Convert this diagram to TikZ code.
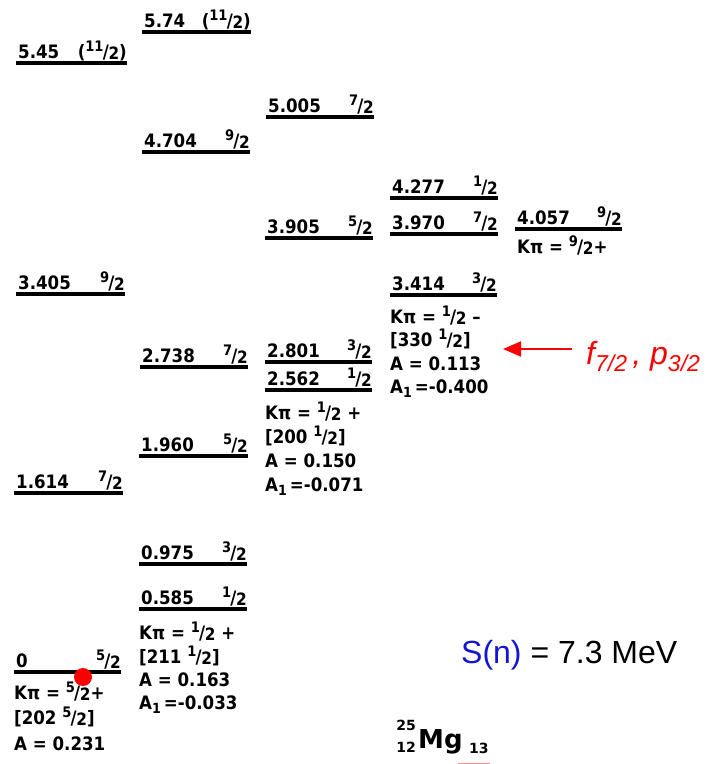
\documentclass[tikz,border=0pt]{standalone}
\usepackage{fontspec}
\setmainfont{DejaVu Sans}
\newfontfamily\lf[FakeStretch=0.9]{DejaVu Sans Bold}
\newfontfamily\af{Liberation Sans}
\newfontfamily\mgf{DejaVu Sans Bold}
\usetikzlibrary{arrows.meta}
\definecolor{snblue}{RGB}{20,20,210}
\definecolor{arrred}{RGB}{250,0,0}
\newcommand\fr[2]{\raisebox{0.34em}{\fontsize{14.5}{14.5}\selectfont #1}\kern-0.04em/\kern-0.02em{\fontsize{17}{17}\selectfont\raisebox{-0.08em}{#2}}}
\newcommand\Aone{A\raisebox{-0.25em}{\fontsize{14}{14}\selectfont 1}}
\tikzset{
  levline/.style={line width=3.2pt},
  lab/.style={inner sep=0pt, font=\lf\fontsize{18.5}{18.5}\selectfont},
  lw/.style={lab, anchor=base west},
  le/.style={lab, anchor=base east},
  mgn/.style={inner sep=0pt, font=\mgf\fontsize{14}{14}\selectfont}
}
\newcommand\lvl[6]{%
  \draw[levline] (#2,#4) -- (#3,#4);
  \node[lw] (#1e) at (#2+2,#4-5) {#5};
  \node[le] (#1s) at (#3,#4-5) {#6};
}
\begin{document}
\begin{tikzpicture}[x=1pt,y=-1pt]
\useasboundingbox (0,0) rectangle (722,764);
% column 1
\lvl{a1}{16}{127}{63}{5.45}{(\fr{11}{2})}
\lvl{a2}{16}{125}{294}{3.405}{\fr{9}{2}}
\lvl{a3}{14}{123}{493}{1.614}{\fr{7}{2}}
\lvl{a4}{14}{121}{672}{0}{\fr{5}{2}}
\node[lw] (a4k) at (14,699) {Kπ = \fr{5}{2}+};
\node[lw] (a4n) at (14,724) {[202 \fr{5}{2}]};
\node[lw] (a4a) at (14,750) {A = 0.231};
\fill[arrred] (83,677) circle (9);
% column 2
\lvl{b1}{142}{251}{32}{5.74}{(\fr{11}{2})}
\lvl{b2}{142}{250}{152}{4.704}{\fr{9}{2}}
\lvl{b3}{140}{248}{367}{2.738}{\fr{7}{2}}
\lvl{b4}{139}{248}{456}{1.960}{\fr{5}{2}}
\lvl{b5}{139}{247}{564}{0.975}{\fr{3}{2}}
\lvl{b6}{139}{247}{609}{0.585}{\fr{1}{2}}
\node[lw] (b6k) at (139,639) {Kπ = \fr{1}{2} +};
\node[lw] (b6n) at (139,663) {[211 \fr{1}{2}]};
\node[lw] (b6a) at (139,686) {A = 0.163};
\node[lw] (b6b) at (139,709) {\Aone\,=-0.033};
% column 3
\lvl{c1}{266}{374}{117}{5.005}{\fr{7}{2}}
\lvl{c2}{265}{373}{238}{3.905}{\fr{5}{2}}
\lvl{c3}{265}{372}{362}{2.801}{\fr{3}{2}}
\lvl{c4}{265}{372}{390}{2.562}{\fr{1}{2}}
\node[lw] (c4k) at (265,419) {Kπ = \fr{1}{2} +};
\node[lw] (c4n) at (265,443) {[200 \fr{1}{2}]};
\node[lw] (c4a) at (265,467) {A = 0.150};
\node[lw] (c4b) at (265,491) {\Aone\,=-0.071};
% column 4
\lvl{d1}{390}{498}{198}{4.277}{\fr{1}{2}}
\lvl{d2}{390}{498}{234}{3.970}{\fr{7}{2}}
\lvl{d3}{390}{497}{295}{3.414}{\fr{3}{2}}
\node[lw] (d3k) at (390,323) {Kπ = \fr{1}{2} –};
\node[lw] (d3n) at (390,346) {[330 \fr{1}{2}]};
\node[lw] (d3a) at (390,370) {A = 0.113};
\node[lw] (d3b) at (390,393) {\Aone\,=-0.400};
% column 5
\lvl{e1}{515}{622}{229}{4.057}{\fr{9}{2}}
\node[lw] (e1k) at (517,253) {Kπ = \fr{9}{2}+};
% red arrow and label
\node[inner sep=0pt, anchor=base west, text=arrred, font=\af\itshape\fontsize{32}{32}\selectfont] (fp) at (586,364)
  {f\raisebox{-7pt}{\fontsize{23}{23}\selectfont 7/2}\,, p\raisebox{-7pt}{\fontsize{23}{23}\selectfont 3/2}};
\coordinate (tip) at (503,349);
\draw[arrred, line width=2pt, -{Triangle[length=18pt,width=15pt]}] (fp.west |- tip) ++(-14,0) -- (tip);
% separation energy
\node[inner sep=0pt, anchor=base west, font=\af\fontsize{32}{32}\selectfont] (sn) at (461,663)
  {\textcolor{snblue}{S(n)} = 7.3 MeV};
% nucleus
\node[inner sep=0pt, anchor=base west, font=\mgf\fontsize{26}{26}\selectfont] (mg) at (418,748) {Mg};
\node[mgn, anchor=base east] (ma) at (mg.base west) [xshift=-2pt, yshift=18pt] {25};
\node[mgn, anchor=base east] (mz) at (mg.base west) [xshift=-2pt, yshift=-4pt] {12};
\node[mgn, anchor=base west] (mn) at (mg.base east) [xshift=6pt, yshift=-5pt] {13};
\draw[red!45, line width=1pt] (458,763) -- (490,763);
\end{tikzpicture}
\end{document}
